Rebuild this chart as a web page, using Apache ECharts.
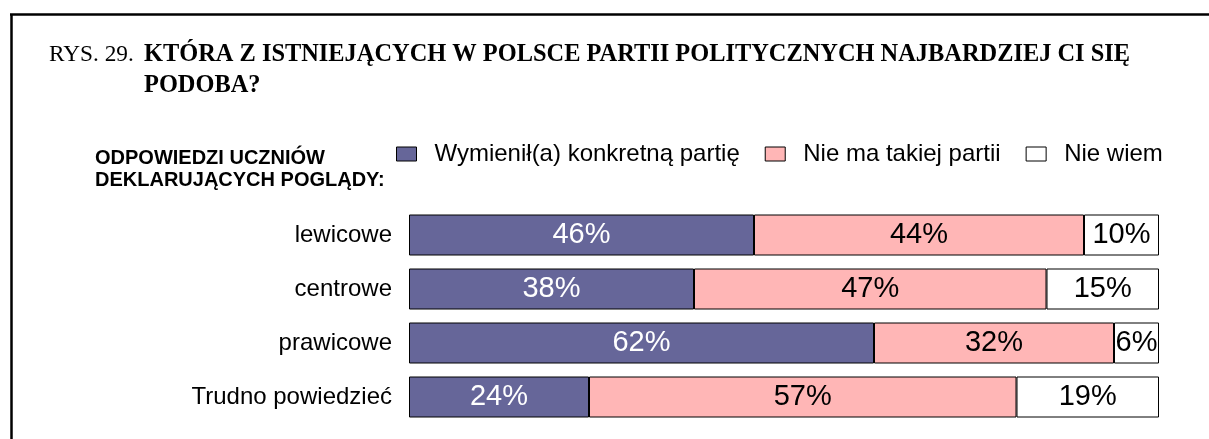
<!DOCTYPE html>
<html>
<head>
<meta charset="utf-8">
<script src="https://cdn.jsdelivr.net/npm/echarts@6/dist/echarts.min.js"></script>
<style>
html,body{margin:0;padding:0;background:#fff;}
#chart{width:1209px;height:439px;}
</style>
</head>
<body>
<div id="chart"></div>
<script>
const categories = ['lewicowe', 'centrowe', 'prawicowe', 'Trudno powiedzieć'];
const seriesNames = ['Wymienił(a) konkretną partię', 'Nie ma takiej partii', 'Nie wiem'];
const named = [46, 38, 62, 24];
const noParty = [44, 47, 32, 57];
const dontKnow = [10, 15, 6, 19];

const sans = 'Arial, "Liberation Sans", sans-serif';
const serif = '"Times New Roman", "Liberation Serif", serif';

const chart = echarts.init(document.getElementById('chart'), null, {renderer: 'canvas'});

function mkSeries(name, data, color, labelColor) {
  return {
    name: name,
    type: 'bar',
    stack: 'total',
    data: data,
    barWidth: 41,
    itemStyle: {color: color, borderColor: '#000', borderWidth: 1},
    label: {
      show: true,
      position: 'inside',
      formatter: '{c}%',
      color: labelColor,
      fontFamily: sans,
      fontSize: 29
    },
    emphasis: {disabled: true}
  };
}

chart.setOption({
  animation: false,
  backgroundColor: '#fff',
  title: [
    {
      text: 'RYS. 29.',
      left: 49, top: 39, padding: 0,
      textStyle: {fontFamily: serif, fontWeight: 'normal', fontSize: 23.3, color: '#000', lineHeight: 31}
    },
    {
      text: 'KTÓRA Z ISTNIEJĄCYCH W POLSCE PARTII POLITYCZNYCH NAJBARDZIEJ CI SIĘ\nPODOBA?',
      left: 144, top: 39, padding: 0,
      textStyle: {fontFamily: serif, fontWeight: 'bold', fontSize: 24.4, color: '#000', lineHeight: 31}
    },
    {
      text: 'ODPOWIEDZI UCZNIÓW\nDEKLARUJĄCYCH POGLĄDY:',
      left: 95, top: 147, padding: 0,
      textStyle: {fontFamily: sans, fontWeight: 'bold', fontSize: 20, color: '#000', lineHeight: 22}
    }
  ],
  legend: {
    left: 396, top: 142,
    padding: 0,
    itemGap: 25,
    itemWidth: 20,
    itemHeight: 14,
    icon: 'rect',
    itemStyle: {borderColor: '#000', borderWidth: 1},
    textStyle: {fontFamily: sans, fontSize: 24, color: '#000', padding: [0, 0, 0, 13]},
    data: seriesNames,
    selectedMode: false
  },
  grid: {left: 409, right: 50, top: 208, bottom: 15, containLabel: false},
  xAxis: {
    type: 'value', min: 0, max: 100, show: false
  },
  yAxis: {
    type: 'category',
    inverse: true,
    data: categories,
    axisLine: {show: false},
    axisTick: {show: false},
    axisLabel: {fontFamily: sans, fontSize: 24, color: '#000', margin: 17}
  },
  series: [
    mkSeries(seriesNames[0], named, '#666699', '#fff'),
    mkSeries(seriesNames[1], noParty, '#FFB6B6', '#000'),
    mkSeries(seriesNames[2], dontKnow, '#FFFFFF', '#000')
  ],
  graphic: [
    {type: 'line', shape: {x1: 10, y1: 14.5, x2: 1209, y2: 14.5}, style: {stroke: '#000', lineWidth: 2.5}},
    {type: 'line', shape: {x1: 11.5, y1: 14, x2: 11.5, y2: 439}, style: {stroke: '#000', lineWidth: 2.5}}
  ]
});
</script>
</body>
</html>
